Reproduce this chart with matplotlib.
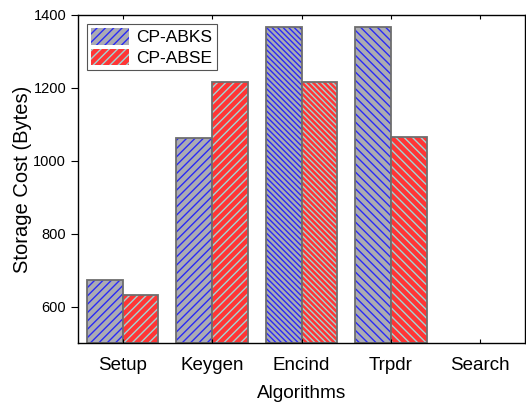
import numpy as np
import matplotlib
matplotlib.use("Agg")
import matplotlib.pyplot as plt
from matplotlib.patches import Patch

categories = ["Setup", "Keygen", "Encind", "Trpdr", "Search"]
abks = [673, 1063, 1367, 1367, 0]
abse = [632, 1216, 1216, 1064, 0]

# hatch pattern per bar (Origin style, density differs)
abks_hatch = ["////", "////", "\\\\\\\\\\\\", "\\\\\\\\", ""]
abse_hatch = ["////", "////", "\\\\\\\\\\\\", "\\\\\\\\", ""]

plt.rcParams['font.family'] = ['Arial', 'Liberation Sans', 'DejaVu Sans']
plt.rcParams['hatch.linewidth'] = 1.0

fig = plt.figure(figsize=(5.26, 4.07), dpi=100)
ax = fig.add_axes([78/526, 1 - 343/407, (525-78)/526, (343-15)/407])

x = np.arange(len(categories))
w = 0.4
edge = "#6e6e6e"

for i in range(len(categories)):
    if abks[i] > 0:
        ax.bar(x[i] - w/2, abks[i] - 500, w, bottom=500, color="#ababb3",
               hatch=abks_hatch[i], edgecolor="#2a2af5", linewidth=0)
        ax.bar(x[i] - w/2, abks[i] - 500, w, bottom=500, fill=False,
               edgecolor=edge, linewidth=1.3)
    if abse[i] > 0:
        ax.bar(x[i] + w/2, abse[i] - 500, w, bottom=500, color="#ff3535",
               hatch=abse_hatch[i], edgecolor="#9fd6d6", linewidth=0)
        ax.bar(x[i] + w/2, abse[i] - 500, w, bottom=500, fill=False,
               edgecolor=edge, linewidth=1.3)

ax.set_xlim(-0.5, 4.5)
ax.set_ylim(500, 1400)
ax.set_yticks([600, 800, 1000, 1200, 1400])
ax.set_xticks(x)
ax.set_xticklabels(categories, fontsize=13.5)
ax.tick_params(axis='y', labelsize=10.5, direction='out', length=5, right=True)
ax.tick_params(axis='x', direction='in', length=3, top=True, pad=10)
ax.set_xlabel("Algorithms", fontsize=13.7, labelpad=8)
ax.set_ylabel("Storage Cost (Bytes)", fontsize=14.5, labelpad=1)
for s in ax.spines.values():
    s.set_linewidth(1.0)

handles = [Patch(facecolor="#ababb3", edgecolor="#2a2af5", hatch="////", linewidth=0),
           Patch(facecolor="#ff3535", edgecolor="#9fd6d6", hatch="////", linewidth=0)]
leg = ax.legend(handles, ["CP-ABKS", "CP-ABSE"], loc="upper left", fontsize=12.5,
                fancybox=False, edgecolor="#555555", framealpha=1,
                borderaxespad=0.5, handlelength=2.2, handleheight=1.1,
                handletextpad=0.4, labelspacing=0.2, borderpad=0.25)
leg.get_frame().set_linewidth(0.8)

fig.savefig("out.png", dpi=100)
